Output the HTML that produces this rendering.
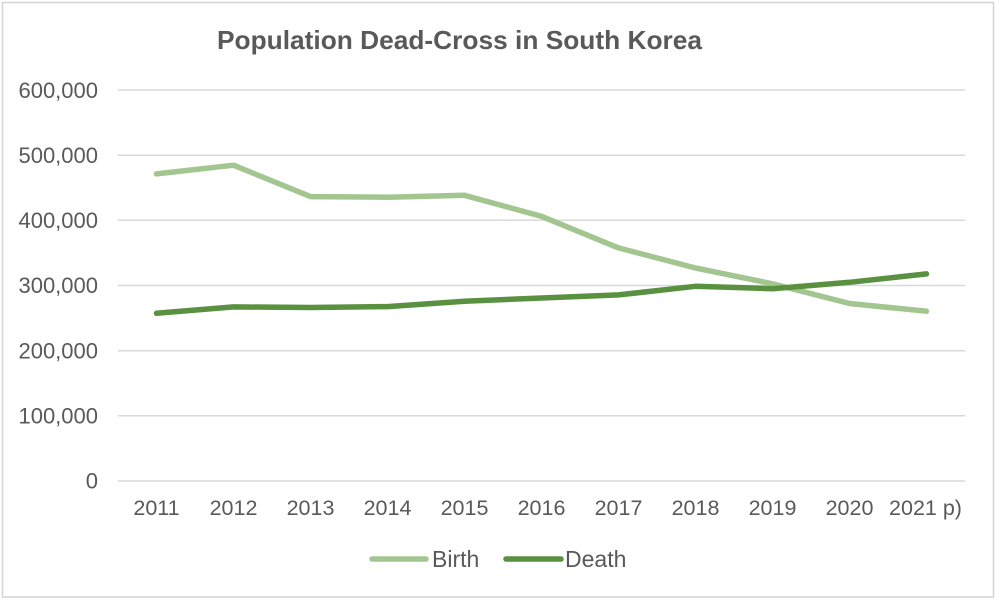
<!DOCTYPE html>
<html>
<head>
<meta charset="utf-8">
<style>
  html, body { margin: 0; padding: 0; background: #ffffff; }
  body { width: 1000px; height: 603px; overflow: hidden; }
  svg { display: block; }
  text { font-family: "Liberation Sans", Arial, sans-serif; fill: #595959; }
</style>
</head>
<body>
<svg width="1000" height="603" viewBox="0 0 1000 603" xmlns="http://www.w3.org/2000/svg">
  <rect x="0" y="0" width="1000" height="603" fill="#ffffff"/>
  <rect x="2.5" y="2.5" width="991" height="594.5" fill="#ffffff" stroke="#d4d4d4" stroke-width="1.5"/>

  <!-- Title -->
  <text x="459.5" y="49" text-anchor="middle" font-size="26" font-weight="bold" textLength="485" lengthAdjust="spacingAndGlyphs">Population Dead-Cross in South Korea</text>

  <!-- Gridlines -->
  <g stroke="#d9d9d9" stroke-width="1.5">
    <line x1="118" y1="90" x2="965" y2="90"/>
    <line x1="118" y1="155.2" x2="965" y2="155.2"/>
    <line x1="118" y1="220.3" x2="965" y2="220.3"/>
    <line x1="118" y1="285.5" x2="965" y2="285.5"/>
    <line x1="118" y1="350.7" x2="965" y2="350.7"/>
    <line x1="118" y1="415.8" x2="965" y2="415.8"/>
    <line x1="118" y1="481" x2="965" y2="481"/>
  </g>

  <!-- Y labels -->
  <g font-size="22" text-anchor="end">
    <text x="98" y="98">600,000</text>
    <text x="98" y="163">500,000</text>
    <text x="98" y="228">400,000</text>
    <text x="98" y="293">300,000</text>
    <text x="98" y="358.5">200,000</text>
    <text x="98" y="423.5">100,000</text>
    <text x="98" y="488.5">0</text>
  </g>

  <!-- X labels -->
  <g font-size="21.5" text-anchor="middle">
    <text x="156.5" y="515">2011</text>
    <text x="233.5" y="515">2012</text>
    <text x="310.5" y="515">2013</text>
    <text x="387.5" y="515">2014</text>
    <text x="464.5" y="515">2015</text>
    <text x="541.5" y="515">2016</text>
    <text x="618.5" y="515">2017</text>
    <text x="695.5" y="515">2018</text>
    <text x="772.5" y="515">2019</text>
    <text x="849.5" y="515">2020</text>
    <text x="925.5" y="515">2021 p)</text>
  </g>

  <!-- Birth series -->
  <polyline fill="none" stroke="#a3c690" stroke-width="5.5" stroke-linecap="round" stroke-linejoin="round"
    points="156.5,173.9 233.5,165.2 310.5,196.6 387.5,197.2 464.5,195.3 541.5,216.3 618.5,247.9 695.5,268.0 772.5,283.8 849.5,303.5 926.5,311.2"/>

  <!-- Death series -->
  <polyline fill="none" stroke="#5a9140" stroke-width="5.5" stroke-linecap="round" stroke-linejoin="round"
    points="156.5,313.3 233.5,306.9 310.5,307.5 387.5,306.6 464.5,301.2 541.5,298.0 618.5,294.9 695.5,286.3 772.5,288.7 849.5,282.3 926.5,273.9"/>

  <!-- Legend -->
  <line x1="372" y1="559" x2="426" y2="559" stroke="#a3c690" stroke-width="5.5" stroke-linecap="round"/>
  <text x="432" y="567" font-size="23">Birth</text>
  <line x1="506" y1="559" x2="561" y2="559" stroke="#5a9140" stroke-width="5.5" stroke-linecap="round"/>
  <text x="565" y="567" font-size="23">Death</text>
</svg>
</body>
</html>
